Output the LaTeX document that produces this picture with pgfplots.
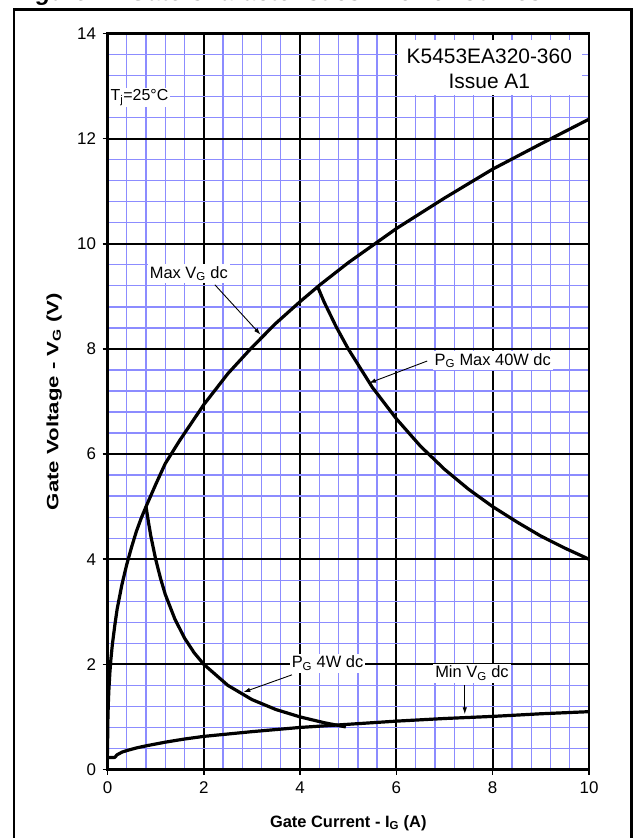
\documentclass[border=0pt]{standalone}
\usepackage{fontspec}
\setmainfont{Liberation Sans}
\usepackage{pgfplots}
\usepackage{pgfplotstable}
\pgfplotsset{compat=1.18}
\usetikzlibrary{arrows.meta}
\definecolor{gridblue}{RGB}{140,140,255}

% Max V_G dc
\pgfplotstableread{
I V
0.0005 0.30
0.005 0.81
0.01 1.04
0.02 1.33
0.03 1.54
0.05 1.85
0.07 2.09
0.1 2.37
0.15 2.73
0.2 3.05
0.3 3.52
0.4 3.90
0.5 4.23
0.6 4.53
0.7 4.78
0.8 5.00
1.0 5.42
1.2 5.82
1.5 6.26
2.0 6.94
2.5 7.53
3.0 8.03
3.5 8.49
4.0 8.90
4.4 9.21
5.0 9.64
6.0 10.29
7.0 10.87
8.0 11.42
9.0 11.90
10.0 12.37
}\maxvg

% P_G max 40W dc
\pgfplotstableread{
I V
4.37 9.17
4.5 8.89
4.75 8.42
5.0 8.00
5.5 7.27
6.0 6.67
6.5 6.15
7.0 5.71
7.5 5.33
8.0 5.00
8.5 4.71
9.0 4.44
9.5 4.21
10.0 4.00
}\pgmax

% P_G 4W dc
\pgfplotstableread{
I V
0.80 5.00
0.85 4.71
0.9 4.44
1.0 4.00
1.1 3.64
1.2 3.33
1.4 2.86
1.6 2.50
1.8 2.22
2.0 2.00
2.5 1.60
3.0 1.33
3.5 1.14
4.0 1.00
4.5 0.89
4.95 0.81
}\pgfour

% Min V_G dc
\pgfplotstableread{
I V
0.0 0.23
0.15 0.23
0.2 0.28
0.3 0.33
0.4 0.36
0.6 0.41
0.8 0.45
1.2 0.52
1.6 0.58
2.0 0.63
3.0 0.72
4.0 0.80
5.0 0.86
6.0 0.92
7.0 0.97
8.0 1.01
9.0 1.06
10.0 1.10
}\minvg

\begin{document}
\begin{tikzpicture}
\useasboundingbox (0,0) rectangle (634bp,838bp);
\node[anchor=base west, inner sep=0, font=\fontsize{24}{26}\selectfont\bfseries\itshape]
  at (15bp,837bp) {Figure 1 - Gate Characteristics - Power Curves};
\draw[line width=2.5bp] (14bp,-10bp) -- (14bp,828.5bp) -- (631.5bp,828.5bp) -- (631.5bp,-10bp);
\begin{axis}[
    at={(107.5bp,68.5bp)}, anchor=south west,
    scale only axis, width=481.5bp, height=736bp,
    xmin=0, xmax=10, ymin=0, ymax=14,
    xtick={0,2,...,10}, ytick={0,2,...,14},
    minor tick num=4,
    grid=both,
    major grid style={black, line width=2bp},
    minor grid style={gridblue, line width=1.3bp},
    axis line style={line width=2.5bp},
    tick align=outside, tick pos=left,
    major tick length=5bp, minor tick length=0pt,
    tick style={black, line width=1.5bp},
    /pgf/number format/assume math mode=true,
    ticklabel style={font=\fontsize{17}{18}\selectfont},
    yticklabel style={xshift=-3bp},
    xticklabel style={yshift=-4bp},
    xlabel={\bfseries Gate Current - I\textsubscript{G} (A)},
    ylabel={\scalebox{1.35}[1]{\bfseries Gate Voltage - V\textsubscript{G} (V)}},
    label style={font=\fontsize{16.5}{18}\selectfont},
    xlabel style={at={(axis description cs:0.5,-0.0727)}, anchor=center},
    ylabel style={at={(axis description cs:-0.111,0.5)}, anchor=center},
]
\addplot[black, line width=3.2bp, no markers, line join=round] table[x=I, y=V] {\maxvg};
\addplot[black, line width=3.2bp, no markers, line join=round] table[x=I, y=V] {\pgmax};
\addplot[black, line width=3.2bp, no markers, line join=round] table[x=I, y=V] {\pgfour};
\addplot[black, line width=3.2bp, no markers, line join=round] table[x=I, y=V] {\minvg};

\fill[white] (axis cs:6.04,13.87) rectangle (axis cs:9.85,12.83);
\node[align=center, font=\fontsize{21}{25}\selectfont] at (axis cs:7.93,13.33)
  {K5453EA320-360\\Issue A1};
\node[anchor=west, fill=white, inner sep=1.5bp, font=\fontsize{16}{17}\selectfont]
  at (axis cs:0.03,12.78) {T\textsubscript{j}=25°C};

\begin{scope}[line width=0.9bp, -{Latex[length=7bp,width=4.5bp]}]
\draw (axis cs:2.23,9.22) -- (axis cs:3.18,8.27);
\draw (axis cs:6.64,7.77) -- (axis cs:5.43,7.35);
\draw (axis cs:3.83,1.80) -- (axis cs:2.82,1.47);
\draw (axis cs:7.42,1.61) -- (axis cs:7.42,1.05);
\end{scope}

\begin{scope}[every node/.style={fill=white, inner sep=2bp, font=\fontsize{16.5}{18}\selectfont}]
\node at (axis cs:1.69,9.43) {Max V\textsubscript{G} dc};
\node at (axis cs:8.0,7.78) {P\textsubscript{G} Max 40W dc};
\node at (axis cs:4.57,2.02) {P\textsubscript{G} 4W dc};
\node at (axis cs:7.57,1.83) {Min V\textsubscript{G} dc};
\end{scope}
\end{axis}
\end{tikzpicture}
\end{document}
